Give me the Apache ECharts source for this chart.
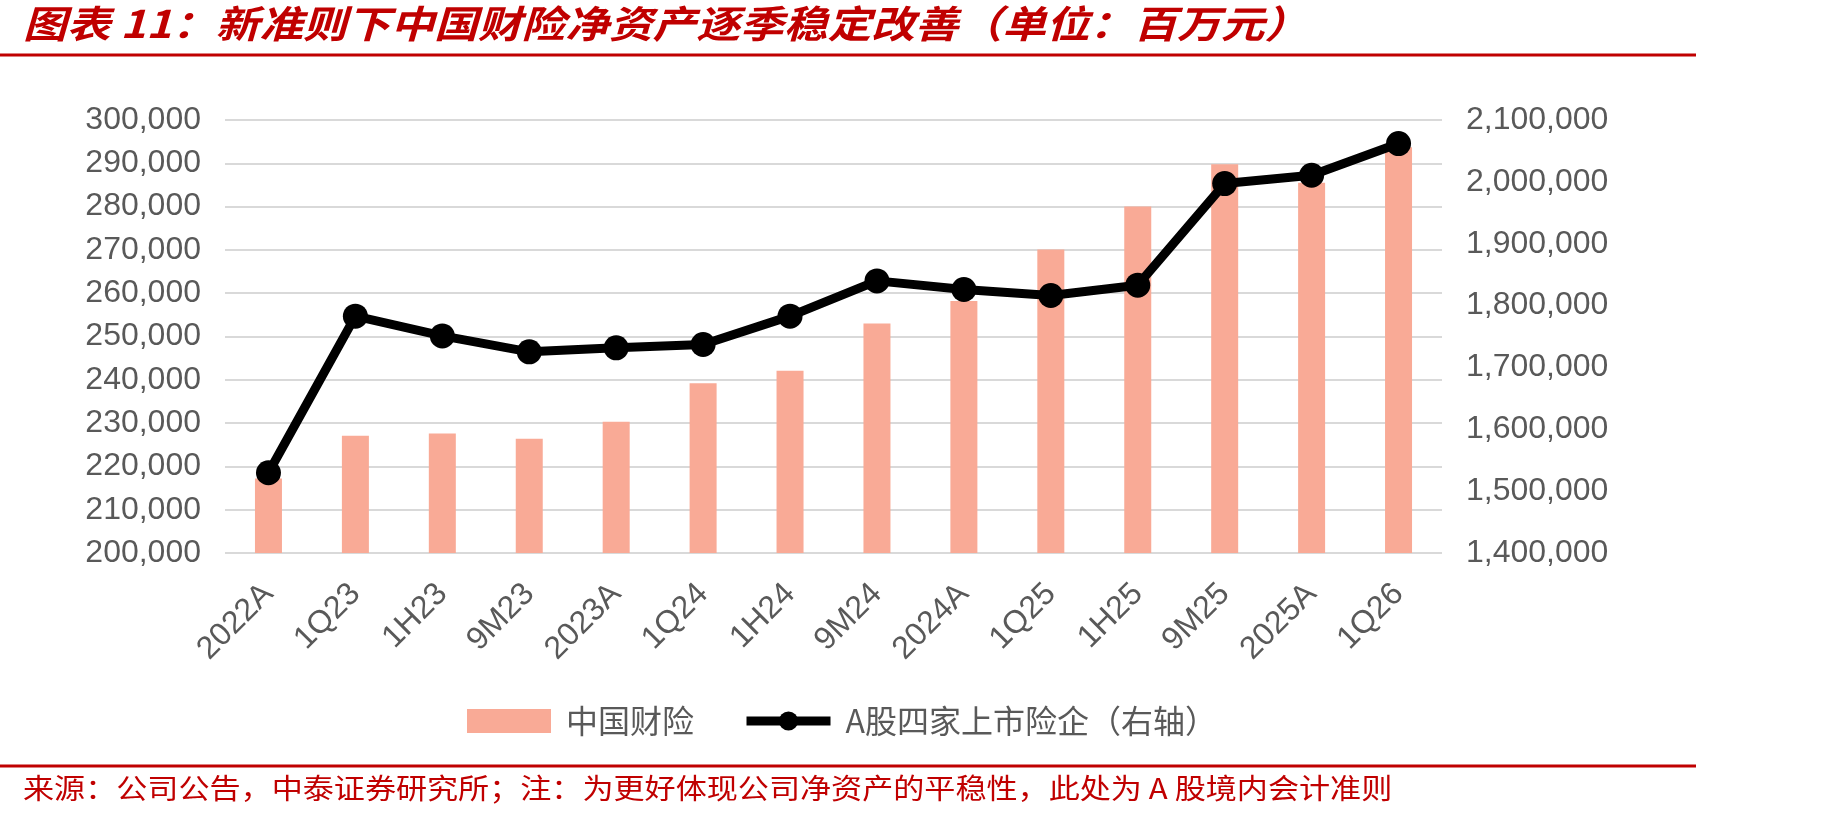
<!DOCTYPE html>
<html>
<head>
<meta charset="utf-8">
<script src="https://cdn.jsdelivr.net/npm/echarts@6/dist/echarts.min.js"></script>
<style>
  html, body { margin: 0; padding: 0; background: #fff; }
  #chart { width: 1830px; height: 820px; }
</style>
</head>
<body>
<div id="chart"></div>
<script>
// categories on the x axis
const categories = ['2022A', '1Q23', '1H23', '9M23', '2023A', '1Q24', '1H24', '9M24', '2024A', '1Q25', '1H25', '9M25', '2025A', '1Q26']
// 中国财险 net assets (left axis, million yuan)
const piccValues = [217200, 227100, 227600, 226400, 230300, 239200, 242100, 253000, 258200, 270100, 280000, 289800, 285500, 293700]
// four listed A-share insurers (right axis)
const listedValues = [1529700, 1782900, 1751000, 1725200, 1731700, 1737100, 1782900, 1839900, 1826000, 1816300, 1833000, 1997200, 2010700, 2061900]

const seriesNames = ['中国财险', 'A股四家上市险企（右轴）']
const titleText = '图表 11：新准则下中国财险净资产逐季稳定改善（单位：百万元）'
const sourceText = '来源：公司公告，中泰证券研究所；注：为更好体现公司净资产的平稳性，此处为 A 股境内会计准则'

const red = '#C00000'
const labelGrey = '#595959'
const numFont = '"Liberation Sans", Arial, sans-serif'
const cjkFont = '"Noto Sans CJK SC", sans-serif'

const fmt = v => v.toLocaleString('en-US')

const chart = echarts.init(document.getElementById('chart'))

const option = {
  animation: false,
  backgroundColor: '#fff',
  grid: {
    left: 225,
    right: 388,
    top: 120,
    bottom: 267,
    containLabel: false,
    outerBoundsMode: 'none'
  },
  legend: {
    left: 462,
    top: 700,
    itemWidth: 84,
    itemHeight: 24,
    itemGap: 48,
    textStyle: { fontSize: 32, color: labelGrey, fontFamily: cjkFont, padding: [0, 0, 0, 10] },
    data: [
      { name: seriesNames[0], icon: 'rect', itemStyle: { color: '#F9AA96' } },
      { name: seriesNames[1], lineStyle: { width: 9, color: '#000' }, itemStyle: { color: '#000' } }
    ]
  },
  xAxis: {
    type: 'category',
    data: categories,
    axisLine: { show: false },
    axisTick: { show: false },
    axisLabel: {
      rotate: 45,
      margin: 36,
      fontSize: 32,
      color: labelGrey,
      fontFamily: numFont
    }
  },
  yAxis: [
    {
      type: 'value',
      min: 200000,
      max: 300000,
      interval: 10000,
      axisLine: { show: false },
      axisTick: { show: false },
      splitLine: { lineStyle: { color: '#D9D9D9', width: 2 } },
      axisLabel: { margin: 24, fontSize: 32, color: labelGrey, fontFamily: numFont, formatter: fmt }
    },
    {
      type: 'value',
      min: 1400000,
      max: 2100000,
      interval: 100000,
      axisLine: { show: false },
      axisTick: { show: false },
      splitLine: { show: false },
      axisLabel: { margin: 24, fontSize: 32, color: labelGrey, fontFamily: numFont, formatter: fmt }
    }
  ],
  series: [
    {
      name: seriesNames[0],
      type: 'bar',
      data: piccValues,
      barWidth: 27,
      itemStyle: { color: '#F9AA96' }
    },
    {
      name: seriesNames[1],
      type: 'line',
      yAxisIndex: 1,
      data: listedValues,
      symbol: 'circle',
      symbolSize: 25,
      z: 5,
      lineStyle: { color: '#000', width: 9 },
      itemStyle: { color: '#000' }
    }
  ],
  graphic: [
    {
      type: 'text',
      left: 23,
      top: 5,
      scaleX: 1.15,
      style: { text: titleText, fill: red, font: 'italic bold 38px ' + cjkFont }
    },
    {
      type: 'line',
      shape: { x1: 0, y1: 55, x2: 1696, y2: 55 },
      style: { stroke: red, lineWidth: 3 }
    },
    {
      type: 'line',
      shape: { x1: 0, y1: 766, x2: 1696, y2: 766 },
      style: { stroke: red, lineWidth: 3 }
    },
    {
      type: 'text',
      left: 23,
      top: 774,
      scaleX: 1.11,
      style: { text: sourceText, fill: red, font: '28px ' + cjkFont }
    }
  ]
}

chart.setOption(option)
</script>
</body>
</html>
